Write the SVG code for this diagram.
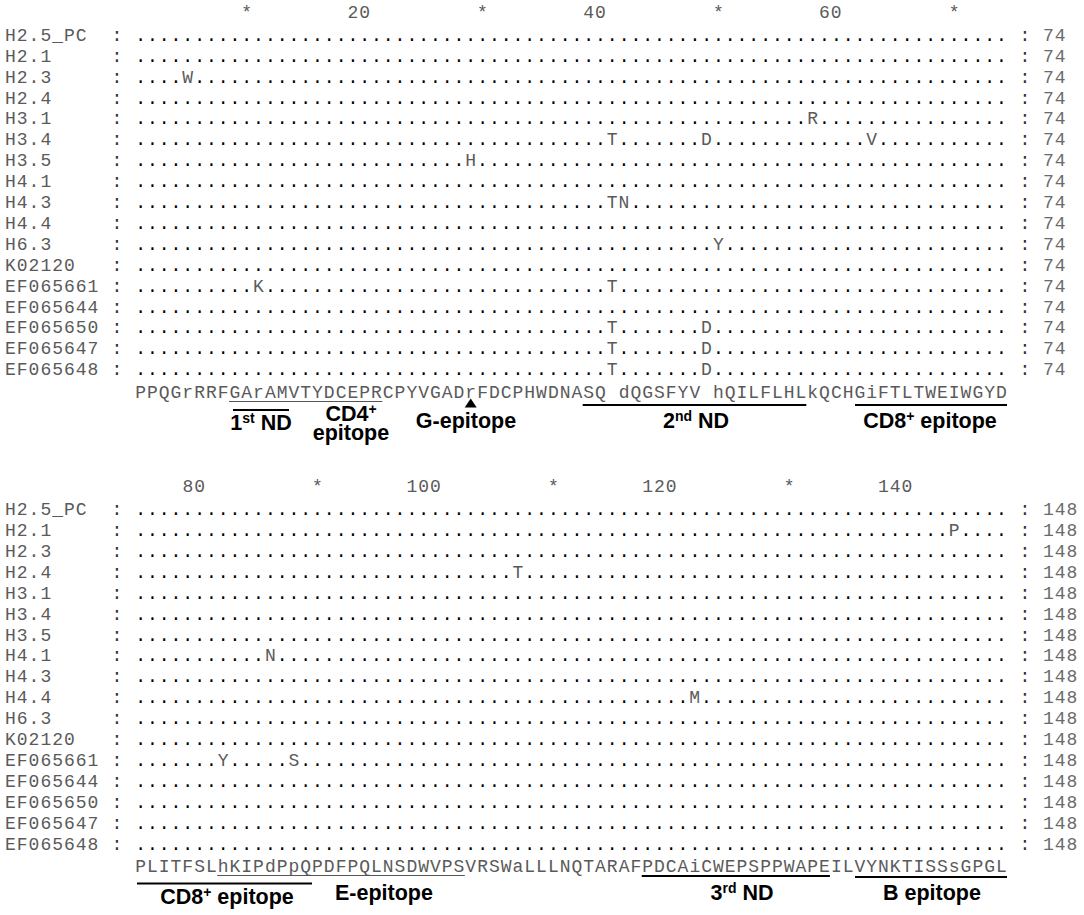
<svg xmlns="http://www.w3.org/2000/svg" width="1084" height="915" viewBox="0 0 1084 915">
<style>
text { font-family: "Liberation Mono", "Courier New", monospace; font-size: 18px; letter-spacing: 0.99px; }
.nm { fill: #5a5a5a; }
.cl { fill: #333; }
.dt { fill: #000; }
.m { fill: #5a5a5a; }
.num { fill: #6a6a6a; }
.cons { fill: #5a5a5a; }
.rul { fill: #5a5a5a; }
.lab { font-family: "Liberation Sans", Arial, sans-serif; font-weight: bold; font-size: 21.5px; letter-spacing: 0; fill: #000; text-anchor: middle; }
.ul { stroke: #555; stroke-width: 1.2; }
.bar { stroke: #000; stroke-width: 2; }
</style>
<rect width="1084" height="915" fill="#fff"/>

<g id="ruler1" class="rul">
<text x="241.3" y="17.5">*</text><text x="347.4" y="17.5">20</text><text x="477.1" y="17.5">*</text><text x="583.2" y="17.5">40</text><text x="712.9" y="17.5">*</text><text x="819.0" y="17.5">60</text><text x="948.7" y="17.5">*</text>
</g>

<g id="block1">
<text id="b1-H2_5_PC" y="40.8"><tspan class="nm" x="5">H2.5_PC</tspan><tspan class="cl" x="111.6">:</tspan><tspan class="dt" x="135.2">..........................................................................</tspan><tspan class="cl" x="1019.4">:</tspan><tspan class="num" x="1043">74</tspan></text>
<text id="b1-H2_1" y="61.7"><tspan class="nm" x="5">H2.1</tspan><tspan class="cl" x="111.6">:</tspan><tspan class="dt" x="135.2">..........................................................................</tspan><tspan class="cl" x="1019.4">:</tspan><tspan class="num" x="1043">74</tspan></text>
<text id="b1-H2_3" y="82.6"><tspan class="nm" x="5">H2.3</tspan><tspan class="cl" x="111.6">:</tspan><tspan class="dt" x="135.2">....</tspan><tspan class="m" x="182.36">W</tspan><tspan class="dt" x="194.15">.....................................................................</tspan><tspan class="cl" x="1019.4">:</tspan><tspan class="num" x="1043">74</tspan></text>
<text id="b1-H2_4" y="103.5"><tspan class="nm" x="5">H2.4</tspan><tspan class="cl" x="111.6">:</tspan><tspan class="dt" x="135.2">..........................................................................</tspan><tspan class="cl" x="1019.4">:</tspan><tspan class="num" x="1043">74</tspan></text>
<text id="b1-H3_1" y="124.4"><tspan class="nm" x="5">H3.1</tspan><tspan class="cl" x="111.6">:</tspan><tspan class="dt" x="135.2">.........................................................</tspan><tspan class="m" x="807.23">R</tspan><tspan class="dt" x="819.02">................</tspan><tspan class="cl" x="1019.4">:</tspan><tspan class="num" x="1043">74</tspan></text>
<text id="b1-H3_4" y="145.3"><tspan class="nm" x="5">H3.4</tspan><tspan class="cl" x="111.6">:</tspan><tspan class="dt" x="135.2">........................................</tspan><tspan class="m" x="606.8">T</tspan><tspan class="dt" x="618.59">.......</tspan><tspan class="m" x="701.12">D</tspan><tspan class="dt" x="712.91">.............</tspan><tspan class="m" x="866.18">V</tspan><tspan class="dt" x="877.97">...........</tspan><tspan class="cl" x="1019.4">:</tspan><tspan class="num" x="1043">74</tspan></text>
<text id="b1-H3_5" y="166.2"><tspan class="nm" x="5">H3.5</tspan><tspan class="cl" x="111.6">:</tspan><tspan class="dt" x="135.2">............................</tspan><tspan class="m" x="465.32">H</tspan><tspan class="dt" x="477.11">.............................................</tspan><tspan class="cl" x="1019.4">:</tspan><tspan class="num" x="1043">74</tspan></text>
<text id="b1-H4_1" y="187.1"><tspan class="nm" x="5">H4.1</tspan><tspan class="cl" x="111.6">:</tspan><tspan class="dt" x="135.2">..........................................................................</tspan><tspan class="cl" x="1019.4">:</tspan><tspan class="num" x="1043">74</tspan></text>
<text id="b1-H4_3" y="208.0"><tspan class="nm" x="5">H4.3</tspan><tspan class="cl" x="111.6">:</tspan><tspan class="dt" x="135.2">........................................</tspan><tspan class="m" x="606.8">TN</tspan><tspan class="dt" x="630.38">................................</tspan><tspan class="cl" x="1019.4">:</tspan><tspan class="num" x="1043">74</tspan></text>
<text id="b1-H4_4" y="228.9"><tspan class="nm" x="5">H4.4</tspan><tspan class="cl" x="111.6">:</tspan><tspan class="dt" x="135.2">..........................................................................</tspan><tspan class="cl" x="1019.4">:</tspan><tspan class="num" x="1043">74</tspan></text>
<text id="b1-H6_3" y="249.8"><tspan class="nm" x="5">H6.3</tspan><tspan class="cl" x="111.6">:</tspan><tspan class="dt" x="135.2">.................................................</tspan><tspan class="m" x="712.91">Y</tspan><tspan class="dt" x="724.7">........................</tspan><tspan class="cl" x="1019.4">:</tspan><tspan class="num" x="1043">74</tspan></text>
<text id="b1-K02120" y="270.7"><tspan class="nm" x="5">K02120</tspan><tspan class="cl" x="111.6">:</tspan><tspan class="dt" x="135.2">..........................................................................</tspan><tspan class="cl" x="1019.4">:</tspan><tspan class="num" x="1043">74</tspan></text>
<text id="b1-EF065661" y="291.6"><tspan class="nm" x="5">EF065661</tspan><tspan class="cl" x="111.6">:</tspan><tspan class="dt" x="135.2">..........</tspan><tspan class="m" x="253.1">K</tspan><tspan class="dt" x="264.89">.............................</tspan><tspan class="m" x="606.8">T</tspan><tspan class="dt" x="618.59">.................................</tspan><tspan class="cl" x="1019.4">:</tspan><tspan class="num" x="1043">74</tspan></text>
<text id="b1-EF065644" y="312.5"><tspan class="nm" x="5">EF065644</tspan><tspan class="cl" x="111.6">:</tspan><tspan class="dt" x="135.2">..........................................................................</tspan><tspan class="cl" x="1019.4">:</tspan><tspan class="num" x="1043">74</tspan></text>
<text id="b1-EF065650" y="333.4"><tspan class="nm" x="5">EF065650</tspan><tspan class="cl" x="111.6">:</tspan><tspan class="dt" x="135.2">........................................</tspan><tspan class="m" x="606.8">T</tspan><tspan class="dt" x="618.59">.......</tspan><tspan class="m" x="701.12">D</tspan><tspan class="dt" x="712.91">.........................</tspan><tspan class="cl" x="1019.4">:</tspan><tspan class="num" x="1043">74</tspan></text>
<text id="b1-EF065647" y="354.3"><tspan class="nm" x="5">EF065647</tspan><tspan class="cl" x="111.6">:</tspan><tspan class="dt" x="135.2">........................................</tspan><tspan class="m" x="606.8">T</tspan><tspan class="dt" x="618.59">.......</tspan><tspan class="m" x="701.12">D</tspan><tspan class="dt" x="712.91">.........................</tspan><tspan class="cl" x="1019.4">:</tspan><tspan class="num" x="1043">74</tspan></text>
<text id="b1-EF065648" y="375.2"><tspan class="nm" x="5">EF065648</tspan><tspan class="cl" x="111.6">:</tspan><tspan class="dt" x="135.2">........................................</tspan><tspan class="m" x="606.8">T</tspan><tspan class="dt" x="618.59">.......</tspan><tspan class="m" x="701.12">D</tspan><tspan class="dt" x="712.91">.........................</tspan><tspan class="cl" x="1019.4">:</tspan><tspan class="num" x="1043">74</tspan></text>
<text id="b1-consensus" class="cons" x="135.2" y="398">PPQGrRRFGArAMVTYDCEPRCPYVGADrFDCPHWDNASQ dQGSFYV hQILFLHLkQCHGiFTLTWEIWGYD</text>
</g>

<g id="annot1">
<line class="ul" x1="229.0" y1="401.5" x2="382.3" y2="401.5"/>
<line class="bar" x1="233" y1="410" x2="289" y2="410"/>
<line class="bar" x1="582.7" y1="405" x2="806.3" y2="405"/>
<line class="bar" x1="855" y1="405" x2="1007" y2="405"/>
<path d="M464.7,407.5 L476.7,407.5 L470.7,398.5 Z" fill="#000"/>
<text class="lab" x="261" y="430">1<tspan dy="-7" font-size="14">st</tspan><tspan dy="7"> ND</tspan></text>
<text class="lab" x="351" y="421">CD4<tspan dy="-7" font-size="14">+</tspan><tspan x="351" dy="26">epitope</tspan></text>
<text class="lab" x="466" y="428">G-epitope</text>
<text class="lab" x="696" y="428">2<tspan dy="-7" font-size="14">nd</tspan><tspan dy="7"> ND</tspan></text>
<text class="lab" x="930" y="428">CD8<tspan dy="-7" font-size="14">+</tspan><tspan dy="7"> epitope</tspan></text>
</g>

<g id="ruler2" class="rul">
<text x="182.4" y="491.7">80</text><text x="312.05" y="491.7">*</text><text x="406.4" y="491.7">100</text><text x="547.9" y="491.7">*</text><text x="642.2" y="491.7">120</text><text x="783.65" y="491.7">*</text><text x="877.97" y="491.7">140</text>
</g>

<g id="block2">
<text id="b2-H2_5_PC" y="515.1"><tspan class="nm" x="5">H2.5_PC</tspan><tspan class="cl" x="111.6">:</tspan><tspan class="dt" x="135.2">..........................................................................</tspan><tspan class="cl" x="1019.4">:</tspan><tspan class="num" x="1043">148</tspan></text>
<text id="b2-H2_1" y="536.0"><tspan class="nm" x="5">H2.1</tspan><tspan class="cl" x="111.6">:</tspan><tspan class="dt" x="135.2">.....................................................................</tspan><tspan class="m" x="948.71">P</tspan><tspan class="dt" x="960.5">....</tspan><tspan class="cl" x="1019.4">:</tspan><tspan class="num" x="1043">148</tspan></text>
<text id="b2-H2_3" y="556.9"><tspan class="nm" x="5">H2.3</tspan><tspan class="cl" x="111.6">:</tspan><tspan class="dt" x="135.2">..........................................................................</tspan><tspan class="cl" x="1019.4">:</tspan><tspan class="num" x="1043">148</tspan></text>
<text id="b2-H2_4" y="577.8"><tspan class="nm" x="5">H2.4</tspan><tspan class="cl" x="111.6">:</tspan><tspan class="dt" x="135.2">................................</tspan><tspan class="m" x="512.48">T</tspan><tspan class="dt" x="524.27">.........................................</tspan><tspan class="cl" x="1019.4">:</tspan><tspan class="num" x="1043">148</tspan></text>
<text id="b2-H3_1" y="598.7"><tspan class="nm" x="5">H3.1</tspan><tspan class="cl" x="111.6">:</tspan><tspan class="dt" x="135.2">..........................................................................</tspan><tspan class="cl" x="1019.4">:</tspan><tspan class="num" x="1043">148</tspan></text>
<text id="b2-H3_4" y="619.6"><tspan class="nm" x="5">H3.4</tspan><tspan class="cl" x="111.6">:</tspan><tspan class="dt" x="135.2">..........................................................................</tspan><tspan class="cl" x="1019.4">:</tspan><tspan class="num" x="1043">148</tspan></text>
<text id="b2-H3_5" y="640.5"><tspan class="nm" x="5">H3.5</tspan><tspan class="cl" x="111.6">:</tspan><tspan class="dt" x="135.2">..........................................................................</tspan><tspan class="cl" x="1019.4">:</tspan><tspan class="num" x="1043">148</tspan></text>
<text id="b2-H4_1" y="661.4"><tspan class="nm" x="5">H4.1</tspan><tspan class="cl" x="111.6">:</tspan><tspan class="dt" x="135.2">...........</tspan><tspan class="m" x="264.89">N</tspan><tspan class="dt" x="276.68">..............................................................</tspan><tspan class="cl" x="1019.4">:</tspan><tspan class="num" x="1043">148</tspan></text>
<text id="b2-H4_3" y="682.3"><tspan class="nm" x="5">H4.3</tspan><tspan class="cl" x="111.6">:</tspan><tspan class="dt" x="135.2">..........................................................................</tspan><tspan class="cl" x="1019.4">:</tspan><tspan class="num" x="1043">148</tspan></text>
<text id="b2-H4_4" y="703.2"><tspan class="nm" x="5">H4.4</tspan><tspan class="cl" x="111.6">:</tspan><tspan class="dt" x="135.2">...............................................</tspan><tspan class="m" x="689.33">M</tspan><tspan class="dt" x="701.12">..........................</tspan><tspan class="cl" x="1019.4">:</tspan><tspan class="num" x="1043">148</tspan></text>
<text id="b2-H6_3" y="724.1"><tspan class="nm" x="5">H6.3</tspan><tspan class="cl" x="111.6">:</tspan><tspan class="dt" x="135.2">..........................................................................</tspan><tspan class="cl" x="1019.4">:</tspan><tspan class="num" x="1043">148</tspan></text>
<text id="b2-K02120" y="745.0"><tspan class="nm" x="5">K02120</tspan><tspan class="cl" x="111.6">:</tspan><tspan class="dt" x="135.2">..........................................................................</tspan><tspan class="cl" x="1019.4">:</tspan><tspan class="num" x="1043">148</tspan></text>
<text id="b2-EF065661" y="765.9"><tspan class="nm" x="5">EF065661</tspan><tspan class="cl" x="111.6">:</tspan><tspan class="dt" x="135.2">.......</tspan><tspan class="m" x="217.73">Y</tspan><tspan class="dt" x="229.52">.....</tspan><tspan class="m" x="288.47">S</tspan><tspan class="dt" x="300.26">............................................................</tspan><tspan class="cl" x="1019.4">:</tspan><tspan class="num" x="1043">148</tspan></text>
<text id="b2-EF065644" y="786.8"><tspan class="nm" x="5">EF065644</tspan><tspan class="cl" x="111.6">:</tspan><tspan class="dt" x="135.2">..........................................................................</tspan><tspan class="cl" x="1019.4">:</tspan><tspan class="num" x="1043">148</tspan></text>
<text id="b2-EF065650" y="807.7"><tspan class="nm" x="5">EF065650</tspan><tspan class="cl" x="111.6">:</tspan><tspan class="dt" x="135.2">..........................................................................</tspan><tspan class="cl" x="1019.4">:</tspan><tspan class="num" x="1043">148</tspan></text>
<text id="b2-EF065647" y="828.6"><tspan class="nm" x="5">EF065647</tspan><tspan class="cl" x="111.6">:</tspan><tspan class="dt" x="135.2">..........................................................................</tspan><tspan class="cl" x="1019.4">:</tspan><tspan class="num" x="1043">148</tspan></text>
<text id="b2-EF065648" y="849.5"><tspan class="nm" x="5">EF065648</tspan><tspan class="cl" x="111.6">:</tspan><tspan class="dt" x="135.2">..........................................................................</tspan><tspan class="cl" x="1019.4">:</tspan><tspan class="num" x="1043">148</tspan></text>
<text id="b2-consensus" class="cons" x="135.2" y="872.3">PLITFSLhKIPdPpQPDFPQLNSDWVPSVRSWaLLLNQTARAFPDCAiCWEPSPPWAPEILVYNKTISSsGPGL</text>
</g>

<g id="annot2">
<line class="ul" x1="217.2" y1="875.5" x2="464.8" y2="875.5"/>
<line class="bar" x1="137" y1="883.5" x2="312" y2="883.5"/>
<line class="bar" x1="641.7" y1="876" x2="829.9" y2="876"/>
<line class="bar" x1="855" y1="877" x2="1007" y2="877"/>
<text class="lab" x="227" y="904">CD8<tspan dy="-7" font-size="14">+</tspan><tspan dy="7"> epitope</tspan></text>
<text class="lab" x="384" y="900">E-epitope</text>
<text class="lab" x="742" y="900">3<tspan dy="-7" font-size="14">rd</tspan><tspan dy="7"> ND</tspan></text>
<text class="lab" x="932" y="900">B epitope</text>
</g>
</svg>
